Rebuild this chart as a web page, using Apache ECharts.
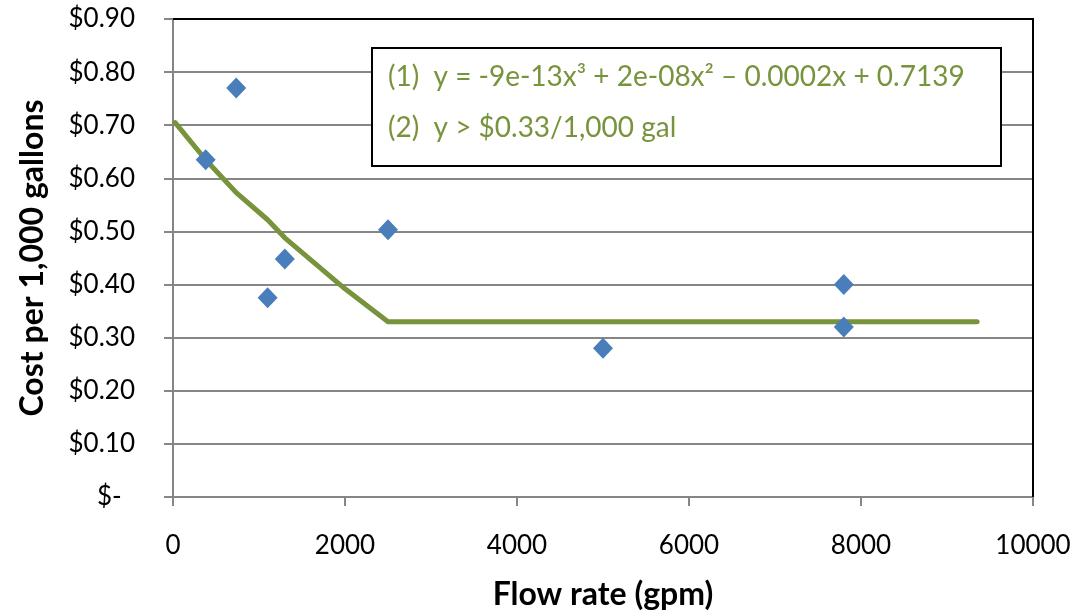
<!DOCTYPE html>
<html>
<head>
<meta charset="utf-8">
<script src="https://cdn.jsdelivr.net/npm/echarts@6/dist/echarts.min.js"></script>
<style>
  html, body { margin: 0; padding: 0; background: #fff; }
  #chart { width: 1076px; height: 616px; }
</style>
</head>
<body>
<div id="chart"></div>
<script>
// observed cost points (gpm, $/1,000 gal)
const flowRates = [380, 735, 1100, 1300, 2500, 5000, 7800, 7800];
const costs = [0.635, 0.77, 0.375, 0.448, 0.503, 0.28, 0.40, 0.32];

// fitted curve
const fitFlow = [25, 380, 735, 1100, 1300, 2000, 2500, 9350];
const fitCost = [0.705, 0.635, 0.573, 0.522, 0.488, 0.392, 0.33, 0.33];

const xTicks = [0, 2000, 4000, 6000, 8000, 10000];
const yTicks = [0, 0.1, 0.2, 0.3, 0.4, 0.5, 0.6, 0.7, 0.8, 0.9];

const eqLines = [
    '(1)  y = -9e-13x\u00b3 + 2e-08x\u00b2 \u2013 0.0002x + 0.7139',
    '(2)  y > $0.33/1,000 gal'
];

const font = 'Lato';
const gray = '#868686';
const green = '#77933C';

let chart = echarts.init(document.getElementById('chart'));

const xMin = xTicks[0], xMax = xTicks[xTicks.length - 1];
const yMin = yTicks[0], yMax = yTicks[yTicks.length - 1];

const option = {
    animation: false,
    grid: { left: 173, right: 43, top: 19, bottom: 118, containLabel: false },
    xAxis: {
        type: 'value',
        min: xMin,
        max: xMax,
        interval: 2000,
        name: 'Flow rate (gpm)',
        nameLocation: 'middle',
        nameGap: 82,
        nameTextStyle: { fontFamily: font, fontWeight: 'bold', fontSize: 32, color: '#000' },
        axisLine: { show: true, onZero: false, lineStyle: { color: gray, width: 2 } },
        axisTick: { show: true, inside: false, length: 9, lineStyle: { color: gray, width: 2 } },
        axisLabel: {
            fontFamily: font, fontSize: 26, color: '#000', margin: 36,
            formatter: function (v) { return String(v); }
        },
        splitLine: { show: false }
    },
    yAxis: {
        type: 'value',
        min: yMin,
        max: yMax,
        interval: 0.1,
        name: 'Cost per 1,000 gallons',
        nameLocation: 'middle',
        nameRotate: 90,
        nameGap: 124,
        nameTextStyle: { fontFamily: font, fontWeight: 'bold', fontSize: 32, color: '#000' },
        axisLine: { show: true, onZero: false, lineStyle: { color: gray, width: 2 } },
        axisTick: { show: true, inside: false, length: 9, lineStyle: { color: gray, width: 2 } },
        axisLabel: {
            fontFamily: font, fontSize: 26, color: '#000', margin: 38,
            formatter: function (v) { return v === 0 ? '$-  ' : '$' + v.toFixed(2); }
        },
        splitLine: { show: true, lineStyle: { color: gray, width: 2 } }
    },
    series: [
        {
            name: 'Fit',
            type: 'line',
            data: fitFlow.map((x, i) => [x, fitCost[i]]),
            showSymbol: false,
            symbol: 'none',
            lineStyle: { color: green, width: 5, cap: 'round', join: 'round' },
            z: 2
        },
        {
            name: 'Cost',
            type: 'scatter',
            data: flowRates.map((x, i) => [x, costs[i]]),
            symbol: 'diamond',
            symbolSize: [20, 21],
            itemStyle: { color: '#4A7EBB', opacity: 1 },
            z: 3
        }
    ],
    graphic: [
        {
            type: 'rect',
            left: 371, top: 47,
            shape: { width: 629, height: 118 },
            style: { fill: '#fff', stroke: '#000', lineWidth: 2 },
            z: 10
        },
        {
            type: 'text',
            left: 388, top: 63,
            style: { text: eqLines[0], fontFamily: font, fontSize: 28, fill: green },
            z: 11
        },
        {
            type: 'text',
            left: 388, top: 114,
            style: { text: eqLines[1], fontFamily: font, fontSize: 28, fill: green },
            z: 11
        }
    ]
};

chart.setOption(option);

// black top and right edges of the plot area, placed from the axes' own scale
const topLeft = chart.convertToPixel({ gridIndex: 0 }, [xMin, yMax]);
const topRight = chart.convertToPixel({ gridIndex: 0 }, [xMax, yMax]);
const bottomRight = chart.convertToPixel({ gridIndex: 0 }, [xMax, yMin]);
chart.setOption({
    graphic: [
        {
            id: 'plotEdge',
            type: 'polyline',
            shape: { points: [topLeft, topRight, bottomRight] },
            style: { stroke: '#000', lineWidth: 2, fill: null },
            z: 9
        }
    ]
});

window.addEventListener('resize', function () {
    chart.resize();
});
</script>
</body>
</html>
